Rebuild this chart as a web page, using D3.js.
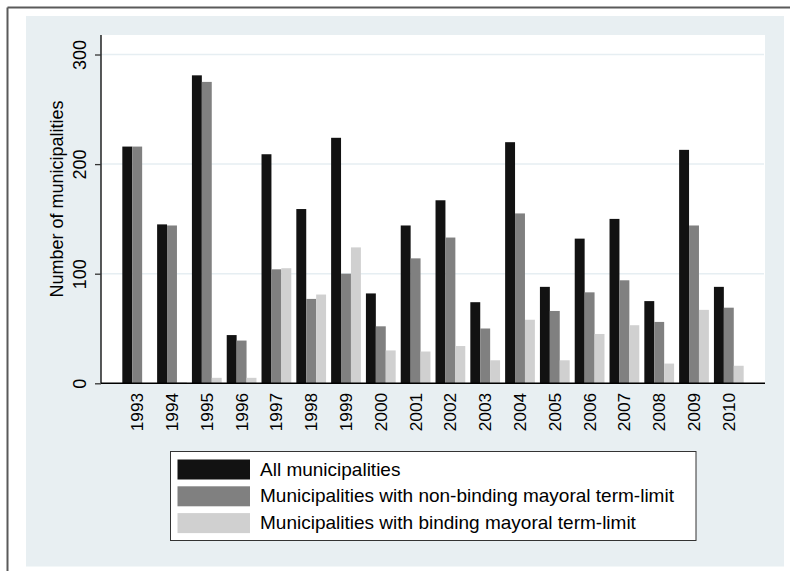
<!DOCTYPE html>
<html>
<head>
<meta charset="utf-8">
<script src="https://cdn.jsdelivr.net/npm/d3@7/dist/d3.min.js"></script>
<style>
  html, body { margin: 0; padding: 0; background: #fff; }
  svg { display: block; font-family: "Liberation Sans", Arial, sans-serif; }
</style>
</head>
<body>
<svg id="chart" width="790" height="571"></svg>
<script>
const years = ["1993","1994","1995","1996","1997","1998","1999","2000","2001","2002","2003","2004","2005","2006","2007","2008","2009","2010"];
const allMunicipalities = [216,145,281,44,209,159,224,82,144,167,74,220,88,132,150,75,213,88];
const nonBinding = [216,144,275,39,104,77,100,52,114,133,50,155,66,83,94,56,144,69];
const binding = [0,1,5,5,105,81,124,30,29,34,21,58,21,45,53,18,67,16];
const seriesNames = ["All municipalities","Municipalities with non-binding mayoral term-limit","Municipalities with binding mayoral term-limit"];
const seriesColors = ["#121212","#808080","#d0d0d0"];
const yTicks = [0,100,200,300];

const svg = d3.select("#chart");

// outer frame lines
svg.append("line").attr("x1",7.5).attr("x2",790).attr("y1",7.5).attr("y2",7.5).attr("stroke","#5a5a5a").attr("stroke-width",2);
svg.append("line").attr("x1",7.5).attr("x2",7.5).attr("y1",7.5).attr("y2",571).attr("stroke","#5a5a5a").attr("stroke-width",2);

// background
svg.append("rect").attr("x",26).attr("y",16).attr("width",758).attr("height",550.5).attr("fill","#e8eff2");

const plot = {left:101, right:765, top:35, bottom:383.3};
svg.append("rect").attr("x",plot.left).attr("y",plot.top).attr("width",plot.right-plot.left).attr("height",plot.bottom-plot.top).attr("fill","#fff");

const y = d3.scaleLinear().domain([0,317.8]).range([plot.bottom, plot.top]);
const x = d3.scaleBand().domain(years).range([plot.left, plot.right]).paddingInner(0.145).paddingOuter(0.6125);
const xs = d3.scaleBand().domain([0,1,2]).range([0, x.bandwidth()]);

// grid
svg.append("g").selectAll("line").data(yTicks.filter(d=>d>0)).join("line")
  .attr("x1",plot.left).attr("x2",plot.right-1)
  .attr("y1",d=>y(d)).attr("y2",d=>y(d))
  .attr("stroke","#e6eef2").attr("stroke-width",1.5);

// bars
const seriesData = [allMunicipalities, nonBinding, binding];
const g = svg.append("g");
years.forEach((yr,i)=>{
  seriesData.forEach((s,k)=>{
    if (s[i] <= 0) return;
    g.append("rect")
      .attr("x", x(yr)+xs(k))
      .attr("width", xs.bandwidth())
      .attr("y", y(s[i]))
      .attr("height", y(0)-y(s[i]))
      .attr("fill", seriesColors[k]);
  });
});

// y axis
const yAxis = d3.axisLeft(y).tickValues(yTicks).tickSize(6).tickFormat(d3.format("d"));
const ya = svg.append("g").attr("transform",`translate(${plot.left},0)`).call(yAxis);
ya.select(".domain").attr("stroke","#000").attr("stroke-width",1.3).attr("d",`M0,${plot.top}V${plot.bottom}`);
ya.selectAll(".tick line").attr("stroke","#333").attr("stroke-width",1.3);
ya.selectAll(".tick text").attr("fill","#000").attr("font-size",18)
  .attr("text-anchor","middle").attr("x",null).attr("dy",null)
  .attr("transform","translate(-15,0) rotate(-90)");

// x axis
const xAxis = d3.axisBottom(x).tickSize(0);
const xa = svg.append("g").attr("transform",`translate(0,${plot.bottom})`).call(xAxis);
xa.select(".domain").attr("stroke","#000").attr("stroke-width",1.5).attr("d",`M${plot.left},0H${plot.right}`);
xa.selectAll(".tick text").attr("fill","#000").attr("font-size",17.3)
  .attr("text-anchor","end").attr("y",null).attr("dy",null)
  .attr("transform","translate(6,9.5) rotate(-90)");

// y title
svg.append("text").attr("transform","translate(63,199) rotate(-90)")
  .attr("text-anchor","middle").attr("font-size",18).attr("fill","#000")
  .text("Number of municipalities");

// legend
const lg = svg.append("g");
lg.append("rect").attr("x",170.5).attr("y",451.5).attr("width",525.5).attr("height",89)
  .attr("fill","#fff").attr("stroke","#333").attr("stroke-width",1);
seriesNames.forEach((name,k)=>{
  lg.append("rect").attr("x",177.5).attr("y",459.5+k*26.8).attr("width",72.5).attr("height",20).attr("fill",seriesColors[k]);
  lg.append("text").attr("x",260).attr("y",476+k*26.3).attr("font-size",19).attr("fill","#000").text(name);
});
</script>
</body>
</html>
